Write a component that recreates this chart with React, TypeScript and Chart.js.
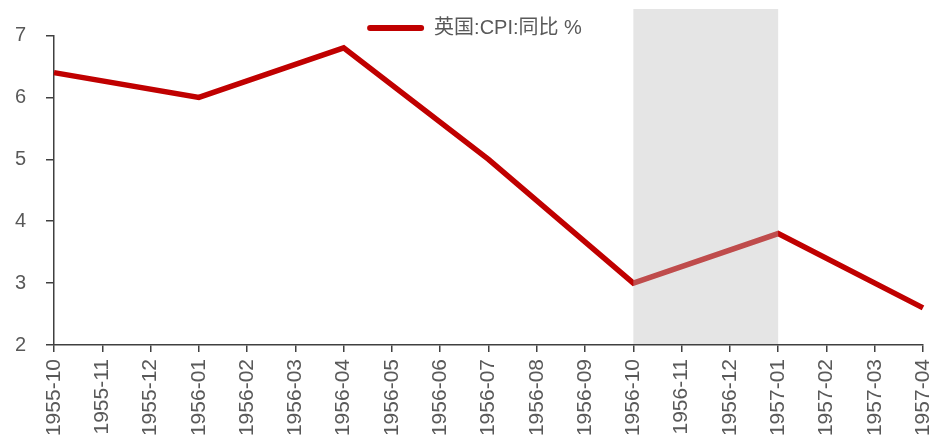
import React, { useEffect, useRef } from "react";
import { Chart, registerables } from "chart.js";

Chart.register(...registerables);

const categories = [
  "1955-10", "1955-11", "1955-12", "1956-01", "1956-02", "1956-03", "1956-04",
  "1956-05", "1956-06", "1956-07", "1956-08", "1956-09", "1956-10", "1956-11",
  "1956-12", "1957-01", "1957-02", "1957-03", "1957-04",
];

const cpiValues: (number | null)[] = [
  6.4, null, null, 6.0, null, null, 6.8,
  null, null, 5.0, null, null, 3.0, null,
  null, 3.8, null, null, 2.6,
];

const yTicks = [2, 3, 4, 5, 6, 7];

const shadeRange = ["1956-10", "1957-01"];

const seriesName = "英国:CPI:同比 %";

const FONT = "'Liberation Sans', Arial, 'Noto Sans CJK SC', sans-serif";

const shadePlugin = {
  id: "shade",
  afterDatasetsDraw(chart: any) {
    const x = chart.scales.x;
    const { ctx, chartArea } = chart;
    const x0 = x.getPixelForValue(categories.indexOf(shadeRange[0]));
    const x1 = x.getPixelForValue(categories.indexOf(shadeRange[1]));
    ctx.save();
    ctx.fillStyle = "rgba(191,191,191,0.4)";
    ctx.fillRect(x0, 9, x1 - x0, chartArea.bottom - 1 - 9);
    ctx.restore();
  },
};

const legendShiftPlugin = {
  id: "legendShift",
  afterLayout(chart: any) {
    const lg = chart.legend;
    if (lg) {
      lg.left += 8;
      lg.right += 8;
    }
  },
};

export default function App() {
  const ref = useRef<HTMLCanvasElement>(null);
  useEffect(() => {
    document.body.style.margin = "0";
    const chart = new Chart(ref.current as HTMLCanvasElement, {
      type: "line",
      data: {
        labels: categories,
        datasets: [
          {
            label: seriesName,
            data: cpiValues,
            borderColor: "#c00000",
            backgroundColor: "#c00000",
            borderWidth: 5.5,
            pointRadius: 0,
            spanGaps: true,
            tension: 0,
          },
        ],
      },
      options: {
        responsive: false,
        animation: false,
        layout: { padding: { top: 12, right: 19, left: 10, bottom: 0 } },
        plugins: {
          tooltip: { enabled: false },
          legend: {
            position: "top",
            maxHeight: 23.5,
            labels: {
              font: { family: FONT, size: 20 },
              color: "#595959",
              boxWidth: 57,
              boxHeight: 6,
              padding: 6,
              useBorderRadius: true,
              borderRadius: 3,
              generateLabels: (chart: any) => {
                const items = Chart.defaults.plugins.legend.labels.generateLabels(chart);
                return items.map((it: any) => ({ ...it, lineWidth: 0, fillStyle: "#c00000" }));
              },
            },
          },
        },
        scales: {
          x: {
            type: "category",
            offset: false,
            grid: { drawOnChartArea: false, drawTicks: true, tickLength: 7, color: "#404040", lineWidth: 1.5 },
            border: { display: true, color: "#404040", width: 1.5 },
            ticks: {
              autoSkip: false,
              maxRotation: 90,
              minRotation: 90,
              padding: 7,
              color: "#595959",
              font: { family: FONT, size: 21 },
            },
            afterFit: (s: any) => {
              s.height = 91;
              s.paddingRight = 0;
              s.paddingLeft = 0;
            },
          },
          y: {
            min: 2,
            max: 7,
            afterBuildTicks: (s: any) => {
              s.ticks = yTicks.map((v) => ({ value: v }));
            },
            grid: { drawOnChartArea: false, drawTicks: true, tickLength: 8, color: "#404040", lineWidth: 1.5 },
            border: { display: true, color: "#404040", width: 1.5 },
            ticks: {
              padding: 20,
              color: "#595959",
              font: { family: FONT, size: 20 },
            },
            afterFit: (s: any) => {
              s.width = 44;
            },
          },
        },
      },
      plugins: [shadePlugin, legendShiftPlugin],
    });
    return () => chart.destroy();
  }, []);
  return (
    <div style={{ width: 942, height: 436 }}>
      <canvas ref={ref} width={942} height={436} />
    </div>
  );
}
